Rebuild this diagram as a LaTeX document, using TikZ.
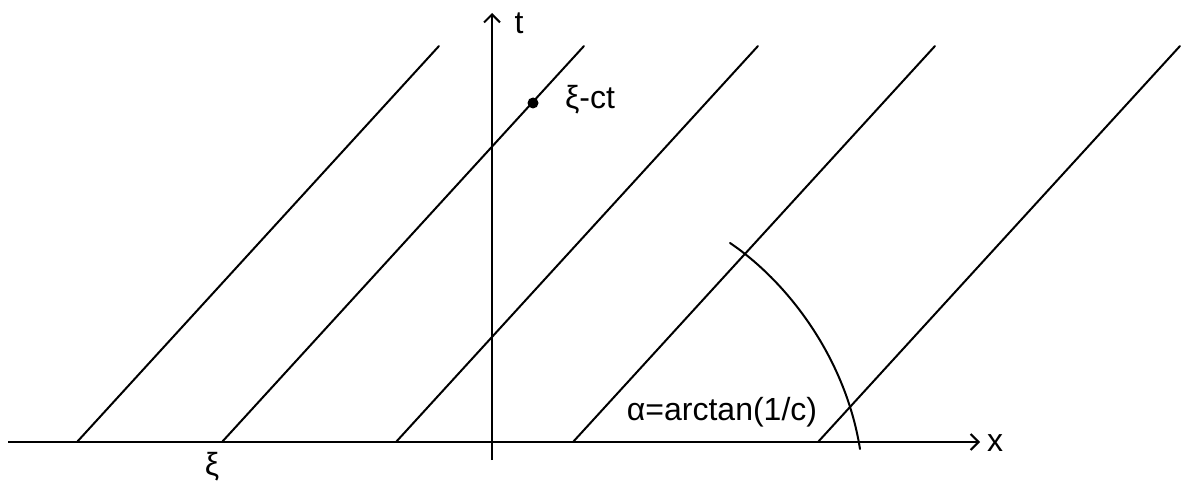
\documentclass[tikz,border=0pt]{standalone}
\usepackage{fontspec}
\setmainfont{Liberation Sans}
\usetikzlibrary{arrows.meta}
\begin{document}
\begin{tikzpicture}[x=0.5pt,y=-0.5pt,
  ln/.style={line width=1pt,line cap=round},
  ax/.style={line width=1pt,-{Straight Barb[length=4pt,width=8pt,line width=1pt]}},
  lbl/.style={inner sep=0pt,font=\fontsize{16}{19}\selectfont}]
\useasboundingbox (0,0) rectangle (1183,486);
% axes
\coordinate (xs) at (8,442);
\coordinate (xe) at (980,442);
\coordinate (ts) at (492,460);
\coordinate (te) at (492,13);
\draw[ax] (xs) -- (xe);
\draw[ax] (ts) -- (te);
\node[lbl] (xl) at (995,443) {x};
\node[lbl] (tl) at (519,23) {t};
% characteristic lines
\foreach \i/\b in {1/77,2/222,3/396,4/573,5/818}{
  \coordinate (b\i) at (\b,442);
  \coordinate (e\i) at ({\b+362},46);
  \draw[ln] (b\i) -- (e\i);
}
% point
\coordinate (p) at (533,103);
\fill (p) circle (5.5);
\node[lbl] (pl) at (590,100) {ξ-ct};
\node[lbl] (xil) at (212,467) {ξ};
% angle arc
\coordinate (a0) at (730,243);
\coordinate (a1) at (860,449);
\draw[ln] (a0) .. controls (785,280) and (845,355) .. (a1);
\node[lbl] (al) at (722,412) {α=arctan(1/c)};
\end{tikzpicture}
\end{document}
